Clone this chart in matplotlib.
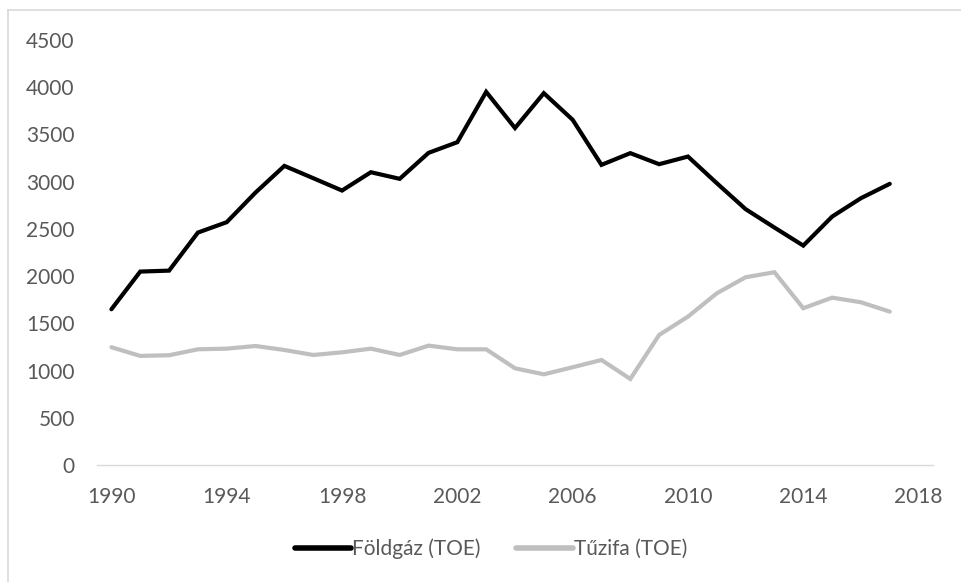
import matplotlib
matplotlib.use("Agg")
import matplotlib.pyplot as plt
from matplotlib.lines import Line2D

years = list(range(1990, 2018))
foldgaz = [1649, 2048, 2058, 2461, 2571, 2885, 3167, 3037, 2906, 3100,
           3030, 3305, 3418, 3951, 3568, 3937, 3655, 3178, 3302, 3185,
           3266, 2984, 2709, 2514, 2323, 2630, 2825, 2977]
tuzifa = [1247, 1155, 1162, 1225, 1232, 1260, 1218, 1165, 1193, 1232,
          1165, 1264, 1225, 1225, 1024, 960, 1035, 1112, 911, 1377,
          1571, 1818, 1988, 2041, 1660, 1772, 1723, 1624]
xticks = [1990, 1994, 1998, 2002, 2006, 2010, 2014, 2018]
yticks = list(range(0, 4501, 500))
labels = ["Földgáz (TOE)", "Tűzifa (TOE)"]

plt.rcParams['font.family'] = ['Lato', 'DejaVu Sans']
txtc = '#595959'

fig = plt.figure(figsize=(9.61, 5.82), dpi=100)
ax = fig.add_axes([97/961, 1-465/582, (933-97)/961, (465-40)/582])

ax.plot(years, foldgaz, color='black', lw=3.0, solid_joinstyle='miter', solid_capstyle='round', label=labels[0])
ax.plot(years, tuzifa, color='#bfbfbf', lw=3.0, solid_joinstyle='miter', solid_capstyle='round', label=labels[1])

ax.set_xlim(1989.5, 2018.5)
ax.set_ylim(0, 4500)
ax.set_xticks(xticks)
ax.set_yticks(yticks)
for s in ['top', 'right', 'left']:
    ax.spines[s].set_visible(False)
ax.spines['bottom'].set_color('#d9d9d9')
ax.spines['bottom'].set_linewidth(1.0)
ax.tick_params(axis='both', length=0, labelsize=15, colors=txtc)
ax.tick_params(axis='y', pad=16)
ax.tick_params(axis='x', pad=16)

handles = [Line2D([], [], color='black', lw=4, solid_capstyle='round'),
           Line2D([], [], color='#bfbfbf', lw=4, solid_capstyle='round')]
leg = fig.legend(handles, labels, loc='center', bbox_to_anchor=(491/961, 1-549/582),
                 ncol=2, frameon=False, fontsize=15, handlelength=2.7,
                 handletextpad=0.05, columnspacing=1.7)
for t in leg.get_texts():
    t.set_color(txtc)

# outer chart border (top and left visible)
fig.add_artist(Line2D([8/961, 8/961], [0, 1-10/582], transform=fig.transFigure, color='#d9d9d9', lw=1.2))
fig.add_artist(Line2D([8/961, 1], [1-10/582, 1-10/582], transform=fig.transFigure, color='#d9d9d9', lw=1.2))

fig.savefig('out.png', dpi=100)
